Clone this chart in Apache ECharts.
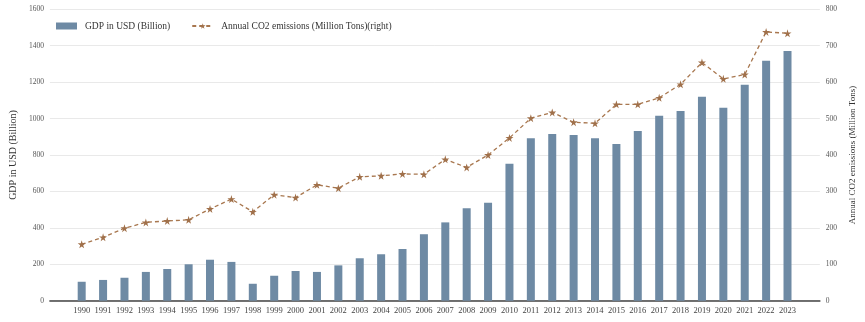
<!DOCTYPE html>
<html>
<head>
<meta charset="utf-8">
<script src="https://cdn.jsdelivr.net/npm/echarts@6/dist/echarts.min.js"></script>
<style>html,body{margin:0;padding:0;background:#fff}#c{width:865px;height:322px}</style>
</head>
<body>
<div id="c"></div>
<script>
const years = ['1990','1991','1992','1993','1994','1995','1996','1997','1998','1999','2000','2001','2002','2003','2004','2005','2006','2007','2008','2009','2010','2011','2012','2013','2014','2015','2016','2017','2018','2019','2020','2021','2022','2023'];
const gdp = [104,114,126,158,174,200,225,213,93,137,163,158,194,233,255,284,365,430,507,538,752,892,915,910,892,860,932,1015,1042,1120,1059,1186,1318,1371];
const co2 = [155,174,199,215,219,222,252,279,244,291,283,318,309,340,343,348,347,388,366,400,447,501,517,490,487,539,539,557,594,654,609,621,738,734];
const leftTicks = {min:0, max:1600, interval:200};
const rightTicks = {min:0, max:800, interval:100};
const names = {bar:'GDP in USD (Billion)', line:'Annual CO2 emissions (Million Tons)(right)', left:'GDP in USD (Billion)', right:'Annual CO2 emissions (Million Tons)'};

const FONT = '"Liberation Serif", "DejaVu Serif", serif';
const STAR = 'path://M50,0 L61,35 L98,35 L68,57 L79,91 L50,70 L21,91 L32,57 L2,35 L39,35 Z';
const plain = v => String(v);
const chart = echarts.init(document.getElementById('c'), null, {renderer:'canvas'});
chart.setOption({
  animation:false,
  backgroundColor:'#fff',
  textStyle:{fontFamily:FONT},
  legend:{
    left:51, top:16,
    itemWidth:21, itemHeight:7, itemGap:21,
    textStyle:{fontFamily:FONT, fontSize:9.5, color:'#333', padding:[0,0,0,3]},
    data:[{name:names.bar, icon:'rect'}, {name:names.line}]
  },
  grid:[
    {left:42, right:39, top:9.3, bottom:21.3},
    {left:71, right:66.8, top:9.3, bottom:21.3}
  ],
  xAxis:[
    {gridIndex:0, type:'category', data:[''], axisLine:{show:true, lineStyle:{color:'#444', width:1.5}}, axisTick:{show:false}, axisLabel:{show:false}, splitLine:{show:false}},
    {gridIndex:1, type:'category', data:years, axisLine:{show:false}, axisTick:{show:false},
     axisLabel:{interval:0, fontFamily:FONT, fontSize:8.5, color:'#444', margin:6}}
  ],
  yAxis:[
    {gridIndex:0, type:'value', position:'left', min:leftTicks.min, max:leftTicks.max, interval:leftTicks.interval,
     name:names.left, nameLocation:'middle', nameGap:29, nameTextStyle:{fontFamily:FONT, fontSize:10, color:'#333'},
     axisLine:{show:false}, axisTick:{show:false},
     axisLabel:{fontFamily:FONT, fontSize:7.5, color:'#555', margin:6, formatter:plain},
     splitLine:{show:true, lineStyle:{color:'#e9e9e9', width:1}}},
    {gridIndex:0, type:'value', position:'right', min:rightTicks.min, max:rightTicks.max, interval:rightTicks.interval,
     name:names.right, nameLocation:'middle', nameGap:25, nameTextStyle:{fontFamily:FONT, fontSize:9, color:'#333'},
     axisLine:{show:false}, axisTick:{show:false},
     axisLabel:{fontFamily:FONT, fontSize:7.5, color:'#555', margin:6, formatter:plain},
     splitLine:{show:false}},
    {gridIndex:1, type:'value', min:leftTicks.min, max:leftTicks.max, show:false},
    {gridIndex:1, type:'value', min:rightTicks.min, max:rightTicks.max, show:false}
  ],
  series:[
    {name:names.bar, type:'bar', xAxisIndex:1, yAxisIndex:2, data:gdp, barWidth:8,
     itemStyle:{color:'#6e8aa4'}},
    {name:names.line, type:'line', xAxisIndex:1, yAxisIndex:3, data:co2,
     symbol:STAR, symbolSize:8,
     lineStyle:{color:'#a8774f', width:1.3, type:[4,3]},
     itemStyle:{color:'#a0704a'}}
  ]
});
</script>
</body>
</html>
